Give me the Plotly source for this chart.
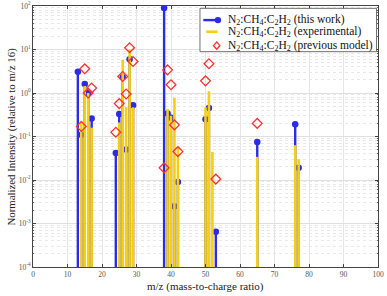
import plotly.graph_objects as go

# ---- data ----
mz_this = [13, 14, 15, 16, 17, 24, 25, 26, 27, 28, 29, 38, 39, 40, 41, 42, 50, 51, 53, 65, 76, 77]
val_this = [3.1, 0.11, 1.6, 1.0, 0.26, 0.042, 0.33, 2.3, 0.05, 6.0, 0.52, 90, 0.34, 0.27, 0.0025, 0.009,
            0.25, 0.45, 0.00065, 0.075, 0.19, 0.019]

mz_exp = [14, 15, 16, 17, 25, 26, 27, 28, 29, 39, 40, 41, 42, 50, 51, 52, 65, 76, 77]
val_exp = [0.23, 1.45, 1.0, 0.16, 0.21, 5.8, 0.48, 10.0, 0.47, 0.43, 0.3, 0.78, 0.055, 0.47, 1.1, 0.044,
           0.034, 0.063, 0.03]

mz_prev = [14, 15, 16, 17, 24, 25, 26, 27, 28, 29, 38, 39, 40, 41, 42, 50, 51, 53, 65]
val_prev = [0.17, 3.6, 1.0, 1.3, 0.125, 0.57, 2.4, 0.95, 11, 5.3, 0.019, 3.4, 1.55, 0.185, 0.045,
            1.9, 4.7, 0.0105, 0.2]

y_floor = 1e-4
x_ticks = list(range(0, 101, 10))
y_tickvals = [1e-4, 1e-3, 1e-2, 1e-1, 1, 10, 100]
y_ticktext = ["10<sup>-4</sup>", "10<sup>-3</sup>", "10<sup>-2</sup>", "10<sup>-1</sup>",
              "10<sup>0</sup>", "10<sup>1</sup>", "10<sup>2</sup>"]

label = "N<sub>2</sub>:CH<sub>4</sub>:C<sub>2</sub>H<sub>2</sub>"
legend_names = [label + " (this work)", label + " (experimental)", label + " (previous model)"]
x_title = "m/z (mass-to-charge ratio)"
y_title = "Normalized Intensity (relative to m/z 16)"

BLUE = "#2b2be8"
YELLOW = "#f5cf10"
RED = "#ff3030"


def stems(xs, ys):
    sx, sy = [], []
    for x, y in zip(xs, ys):
        sx += [x, x, None]
        sy += [y_floor, y, None]
    return sx, sy


fig = go.Figure()

bx, by = stems(mz_this, val_this)
fig.add_trace(go.Scatter(x=bx, y=by, mode="lines", line=dict(color=BLUE, width=2.4),
                         showlegend=False, hoverinfo="skip", name=legend_names[0]))
fig.add_trace(go.Scatter(x=mz_this, y=val_this, mode="markers",
                         marker=dict(color=BLUE, size=6.5, symbol="circle"),
                         showlegend=False, name=legend_names[0]))

yx, yy = stems(mz_exp, val_exp)
fig.add_trace(go.Scatter(x=yx, y=yy, mode="lines", line=dict(color=YELLOW, width=2.6),
                         showlegend=False, hoverinfo="skip", name=legend_names[1]))

fig.add_trace(go.Scatter(x=mz_prev, y=val_prev, mode="markers",
                         marker=dict(color=RED, size=7.5, symbol="diamond-open",
                                     line=dict(color=RED, width=1.3)),
                         showlegend=False, name=legend_names[2]))

minor_vals = []
for e in range(-4, 2):
    for m in range(2, 10):
        minor_vals.append(m * 10 ** e)

FONT = "Liberation Serif"

# ---- hand-drawn legend (paper coordinates of the plot area) ----
row_y = [0.946, 0.9015, 0.848]
shapes = [
    dict(type="rect", xref="paper", yref="paper", x0=0.484, x1=0.9957, y0=0.825, y1=0.991,
         fillcolor="white", line=dict(color="#333", width=0.7), layer="above"),
    dict(type="line", xref="paper", yref="paper", x0=0.4936, x1=0.5371, y0=row_y[0], y1=row_y[0],
         line=dict(color=BLUE, width=2.4)),
    dict(type="circle", xref="paper", yref="paper", xsizemode="pixel", ysizemode="pixel",
         xanchor=0.536, yanchor=row_y[0], x0=-3.2, x1=3.2, y0=-3.2, y1=3.2,
         fillcolor=BLUE, line=dict(color=BLUE, width=0)),
    dict(type="line", xref="paper", yref="paper", x0=0.502, x1=0.535, y0=row_y[1], y1=row_y[1],
         line=dict(color=YELLOW, width=2.6)),
    dict(type="path", xref="paper", yref="paper", xsizemode="pixel", ysizemode="pixel",
         xanchor=0.5325, yanchor=row_y[2], path="M0,-3.6 L3.2,0 L0,3.6 L-3.2,0 Z",
         fillcolor="rgba(0,0,0,0)", line=dict(color=RED, width=1.3)),
]
legend_ann = [
    dict(text=name, xref="paper", yref="paper", x=0.5586, y=yv, xanchor="left", yanchor="middle",
         showarrow=False, font=dict(family=FONT, size=11.5, color="#111"))
    for name, yv in zip(legend_names, row_y)
]

fig.update_layout(
    width=387, height=296,
    margin=dict(l=33, r=9, t=6, b=29),
    paper_bgcolor="white", plot_bgcolor="white",
    font=dict(family=FONT, size=8, color="#222"),
    showlegend=False,
    shapes=shapes,
    annotations=[
        dict(text=x_title, xref="paper", yref="paper", x=0.5, y=-0.073,
             xanchor="center", yanchor="middle", showarrow=False,
             font=dict(family=FONT, size=11, color="#222")),
        dict(text=y_title, xref="paper", yref="paper", x=-0.061, y=0.5,
             xanchor="center", yanchor="middle", showarrow=False, textangle=-90,
             font=dict(family=FONT, size=10.8, color="#222")),
    ] + legend_ann,
)

fig.update_xaxes(
    range=[0, 100], tickvals=x_ticks, ticks="inside", ticklen=3, tickcolor="#444",
    showline=True, linecolor="#444", linewidth=0.8, mirror="ticks", automargin=False,
    showgrid=True, gridcolor="#e6e6e6", gridwidth=0.8, zeroline=False,
    tickfont=dict(family=FONT, size=7.5, color="#555"),
)
fig.update_yaxes(
    type="log", range=[-4, 2], tickvals=y_tickvals, ticktext=y_ticktext,
    ticks="inside", ticklen=3, tickcolor="#444", automargin=False,
    showline=True, linecolor="#444", linewidth=0.8, mirror="ticks",
    showgrid=True, gridcolor="#e0e0e0", gridwidth=0.8, zeroline=False,
    minor=dict(tickvals=minor_vals, ticks="inside", ticklen=1.5, tickcolor="#666",
               showgrid=True, gridcolor="#e8e8e8", griddash="dot", gridwidth=0.7),
    tickfont=dict(family=FONT, size=7.5, color="#555"),
)

fig.write_html("out.html", config={"displayModeBar": False},
               post_script="document.body.style.margin='0';document.body.style.overflow='hidden';")
